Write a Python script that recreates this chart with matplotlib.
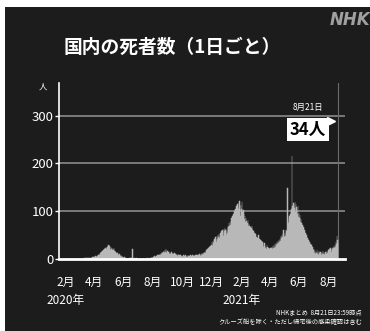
import matplotlib
matplotlib.use("Agg")
import matplotlib.pyplot as plt
from matplotlib.patches import Rectangle
import pandas as pd

plt.rcParams['font.family'] = ['Noto Sans CJK JP', 'DejaVu Sans']

# daily deaths (2020-02-01 .. 2021-08-21)
feb20 = [0,0,0,0,0,0,0,0,0,0,0,0,1,0,0,0,0,0,1,1,0,0,0,0,1,1,1,1,1]
mar20 = [1,1,0,1,0,1,1,1,2,1,2,2,1,2,1,3,1,2,1,2,1,2,2,2,3,1,2,2,4,3,5]
apr20 = [3,5,4,6,4,5,7,6,9,8,10,8,9,12,11,14,12,16,13,17,18,15,20,19,22,18,21,26,25,28]
may20 = [30,24,27,22,19,25,20,22,19,21,18,23,16,17,15,14,12,13,11,12,10,9,8,10,7,6,8,5,6,4,5]
jun20 = [3,2,4,1,3,2,1,2,3,1,2,1,0,2,1,3,1,2,1,20,1,0,1,2,1,0,1,2,0,1]
jul20 = [1,0,1,0,1,2,0,1,0,1,0,1,0,2,1,0,1,1,0,1,2,1,0,2,1,1,3,2,2,3,4]
aug20 = [3,4,5,3,6,5,4,7,6,5,8,6,9,7,8,10,9,12,11,14,13,10,15,16,12,14,18,15,20,13,17]
sep20 = [16,12,14,15,11,13,10,12,14,9,11,13,10,8,12,9,11,10,8,7,9,6,10,8,7,9,6,8,5,7]
oct20 = [6,5,7,8,4,6,5,9,7,4,6,5,8,7,5,6,4,7,8,5,6,7,9,5,6,8,7,5,9,6,8]
nov20 = [7,8,6,9,5,10,8,7,11,9,12,10,8,13,11,14,12,15,13,16,18,14,20,17,22,19,25,21,28,24]
dec20 = [30,35,28,38,33,40,36,42,38,45,40,36,48,42,50,46,52,44,48,55,50,58,53,60,56,48,62,58,65,60,55]
jan21 = [50,58,62,55,70,66,75,68,78,72,80,85,76,90,86,95,82,100,92,105,98,110,95,115,108,104,118,96,122,110,90]
feb21 = [112,105,120,98,88,102,95,84,90,78,86,80,72,76,82,68,74,70,62,66,58,64,70,55,60,52,58,48]
mar21 = [55,48,52,42,46,40,44,38,50,36,42,34,40,30,38,28,36,33,26,30,24,34,28,22,26,20,30,25,18,24,22]
apr21 = [20,18,24,16,22,26,20,28,24,30,22,32,26,34,30,28,36,32,38,34,40,36,42,38,48,44,50,46,54,60]
may21 = [50,45,55,48,60,58,62,149,70,75,80,85,90,78,95,100,105,216,110,100,118,112,106,120,98,115,108,102,94,110,88]
jun21 = [96,85,92,78,84,70,76,62,72,58,66,54,60,48,55,42,50,38,44,34,40,30,36,28,32,24,30,22,26,20]
jul21 = [18,14,20,12,16,10,15,12,18,11,14,9,16,13,10,15,12,8,14,11,16,10,13,9,12,15,10,14,11,16,12]
aug21 = [14,18,12,20,16,22,18,15,24,20,26,22,28,24,30,26,36,32,48,40,34]

deaths = (feb20 + mar20 + apr20 + may20 + jun20 + jul20 + aug20 + sep20 + oct20
          + nov20 + dec20 + jan21 + feb21 + mar21 + apr21 + may21 + jun21 + jul21 + aug21)
dates = pd.date_range("2020-02-01", periods=len(deaths), freq="D")

tick_dates = ["2020-02-01", "2020-04-01", "2020-06-01", "2020-08-01", "2020-10-01",
              "2020-12-01", "2021-02-01", "2021-04-01", "2021-06-01", "2021-08-01"]
tick_labels = ["2月\n2020年", "4月", "6月", "8月", "10月", "12月",
               "2月\n2021年", "4月", "6月", "8月"]
yticks = [0, 100, 200, 300]

BG = "#1c1c1c"
fig = plt.figure(figsize=(3.7, 3.31), dpi=100, facecolor="white")
# dark panel (white strip on top and left like the screenshot)
fig.patches.append(Rectangle((5 / 370, 0), 1, (331 - 7) / 331, transform=fig.transFigure,
                             facecolor=BG, edgecolor="none", zorder=-5))

ax = fig.add_axes([59 / 370, 1 - 259 / 331, 286 / 370, 176 / 331])
ax.set_facecolor(BG)

for y in yticks[1:]:
    ax.axhline(y, color="#8a8a8a", lw=1.2, zorder=1)

# thin edge keeps the single-day spikes visible at this size
ax.bar(dates, deaths, width=1.0, color="#b8b8b8", edgecolor="#b8b8b8",
       linewidth=0.35, zorder=2)

last = dates[-1]
ax.axvline(last, color="#6a6a6a", lw=0.8, zorder=1)

ax.set_xlim(pd.Timestamp("2020-01-19"), pd.Timestamp("2021-09-05"))
ax.set_ylim(0, 368)
ax.set_yticks(yticks)
ax.set_yticklabels([str(v) for v in yticks], color="white", fontsize=9.5)
ax.set_xticks(pd.to_datetime(tick_dates))
ax.set_xticklabels(tick_labels, color="white", fontsize=8.5, linespacing=1.5)
ax.tick_params(axis="x", length=0, pad=12)
ax.tick_params(axis="y", length=3, width=1, color="white", pad=1)

for s in ["top", "right"]:
    ax.spines[s].set_visible(False)
ax.spines["left"].set_color("white")
ax.spines["left"].set_linewidth(1.2)
ax.spines["bottom"].set_color("white")
ax.spines["bottom"].set_linewidth(2)

ax.text(-0.04, 1.0, "人", transform=ax.transAxes, color="white", fontsize=6,
        ha="right", va="top")

# latest-value callout
ax.text(0.871, 0.86, f"{last.month}月{last.day}日", transform=ax.transAxes,
        color="white", fontsize=6, ha="center", va="center")
ax.text(0.871, 0.733, f"{deaths[-1]}人", transform=ax.transAxes, color="black",
        fontsize=12, fontweight="bold", ha="center", va="center",
        bbox=dict(boxstyle="square,pad=0.15", facecolor="white", edgecolor="none"))
ax.plot([0.952], [0.784], marker=">", color="white", markersize=6,
        transform=ax.transAxes, clip_on=False)

fig.text(172 / 370, 1 - 47 / 331, "国内の死者数（1日ごと）", color="white",
         fontsize=13.5, fontweight="bold", ha="center", va="center")
fig.text(1.0, 1 - 20 / 331, "NHK", color="#a0a0a0", fontsize=12,
         fontweight="bold", style="italic", ha="right", va="center",
         family="DejaVu Sans")
fig.text(362 / 370, 1 - 313 / 331, "NHKまとめ  8月21日23:59時点", color="white",
         fontsize=4.5, ha="right", va="center")
fig.text(362 / 370, 1 - 322 / 331, "クルーズ船を除く・ただし帰宅後の感染確認は含む",
         color="white", fontsize=4.5, ha="right", va="center")

fig.savefig("out.png", dpi=100, facecolor=fig.get_facecolor())
